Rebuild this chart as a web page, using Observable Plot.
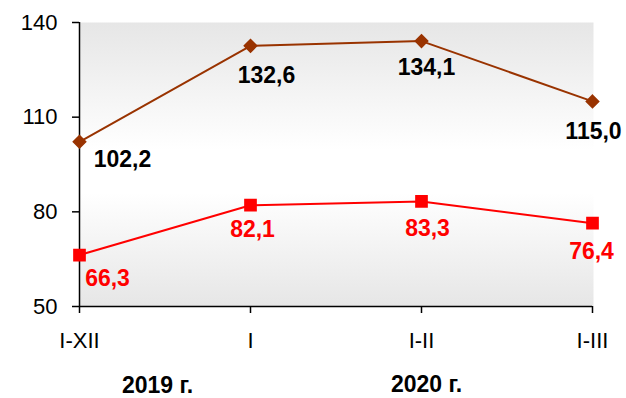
<!DOCTYPE html>
<html>
<head>
<meta charset="utf-8">
<script src="https://cdn.jsdelivr.net/npm/d3@7"></script>
<script src="https://cdn.jsdelivr.net/npm/@observablehq/plot@0.6"></script>
<style>
  html, body { margin: 0; padding: 0; background: #fff; }
  #chart { width: 626px; height: 398px; font-family: "Liberation Sans", Arial, sans-serif; }
</style>
</head>
<body>
<div id="chart"></div>
<script>
const categories = ["I-XII", "I", "I-II", "I-III"];
const seriesBrown = [102.2, 132.6, 134.1, 115.0];
const seriesRed = [66.3, 82.1, 83.3, 76.4];
const yTicks = [50, 80, 110, 140];
const years = ["2019 г.", "2020 г."];

const brown = categories.map((c, i) => ({x: c, y: seriesBrown[i]}));
const red = categories.map((c, i) => ({x: c, y: seriesRed[i]}));
const fmt = d => d3.format(".1f")(d.y).replace(".", ",");

// label offsets (style)
const brownOff = [[43, 18], [16, 30], [5, 27], [1, 30]];
const redOff = [[28, 24], [2, 24], [6, 27], [-1, 28]];

const labelMarks = (data, offs, fill) => offs.map(([dx, dy], i) =>
  Plot.text(data, {filter: (d, j) => j === i, x: "x", y: "y", text: fmt,
    dx, dy, fill, fontSize: 23, fontWeight: "bold", textAnchor: "middle"}));

const defs = () => {
  const d = d3.create("svg:defs");
  const g = d.append("linearGradient").attr("id", "bggrad")
    .attr("x1", 0).attr("y1", 0).attr("x2", 0).attr("y2", 1);
  g.append("stop").attr("offset", "0%").attr("stop-color", "#e6e6e6");
  g.append("stop").attr("offset", "45%").attr("stop-color", "#ffffff");
  g.append("stop").attr("offset", "60%").attr("stop-color", "#ffffff");
  g.append("stop").attr("offset", "100%").attr("stop-color", "#e6e6e6");
  return d.node();
};

const chart = Plot.plot({
  width: 626,
  height: 398,
  marginLeft: 79,
  marginRight: 34,
  marginTop: 22,
  marginBottom: 92,
  style: {fontFamily: "'Liberation Sans', Arial, sans-serif", color: "#000", background: "#fff"},
  x: {type: "point", domain: categories, padding: 0},
  y: {domain: [50, 140]},
  marks: [
    defs,
    Plot.frame({fill: "url(#bggrad)", stroke: null, insetRight: -1}),
    Plot.axisY({ticks: yTicks, tickSize: 7, tickPadding: 15, fontSize: 22, strokeWidth: 1.5, label: null, tickFormat: d => d}),
    Plot.axisX({tickSize: 7, tickPadding: 19, fontSize: 22, strokeWidth: 1.5, label: null}),
    Plot.ruleX([categories[0]], {y1: 50, y2: 140, stroke: "#000", strokeWidth: 1.5}),
    Plot.ruleY([50], {stroke: "#000", strokeWidth: 1.5}),
    Plot.line(brown, {x: "x", y: "y", stroke: "#993300", strokeWidth: 2}),
    Plot.dot(brown, {x: "x", y: "y", symbol: "diamond2", r: 5.6, fill: "#993300", stroke: "#993300"}),
    Plot.line(red, {x: "x", y: "y", stroke: "#ff0000", strokeWidth: 2}),
    Plot.dot(red, {x: "x", y: "y", symbol: "square", r: 6.3, fill: "#ff0000", stroke: "#ff0000"}),
    ...labelMarks(brown, brownOff, "#000"),
    ...labelMarks(red, redOff, "#ff0000"),
    Plot.text([years[0]], {x: () => categories[0], y: () => 50, text: d => d, dx: 78, dy: 79, fontSize: 23, fontWeight: "bold"}),
    Plot.text([years[1]], {x: () => categories[2], y: () => 50, text: d => d, dx: 5, dy: 78, fontSize: 23, fontWeight: "bold"})
  ]
});
document.getElementById("chart").appendChild(chart);
</script>
</body>
</html>
